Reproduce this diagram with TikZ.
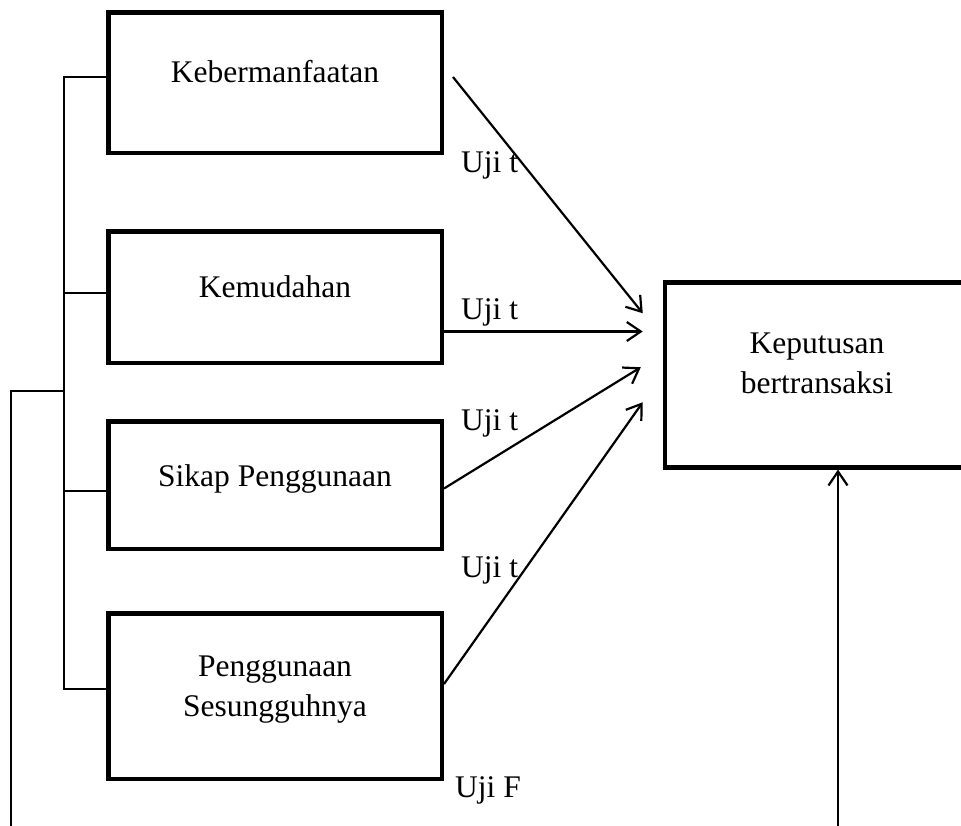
\documentclass[tikz,border=0pt]{standalone}
\usepackage{fontspec}
\setmainfont{Liberation Serif}
\usetikzlibrary{arrows.meta,calc}
\begin{document}
\begin{tikzpicture}[x=1pt,y=-1pt,
  box/.style={draw,line width=4.5pt,minimum width=333.5pt,inner sep=0pt},
  txt/.style={inner sep=0pt,font=\fontsize{31.5pt}{40pt}\selectfont},
  thinln/.style={line width=2pt},
  arr/.style={line width=2.2pt,-{Straight Barb[length=14pt,width=19pt,line width=2.2pt]}}]
\useasboundingbox (0,0) rectangle (961,825);
\clip (0,0) rectangle (961,825);
% boxes
\node[box,minimum height=140.5pt] (b1) at (275,82.5) {};
\node[box,minimum height=131.5pt] (b2) at (275,297) {};
\node[box,minimum height=127.5pt] (b3) at (275,485) {};
\node[box,minimum height=165.5pt] (b4) at (275,696) {};
\node[box,minimum width=310pt,minimum height=185pt] (b5) at (820,374.75) {};
% box texts
\node[txt,anchor=base] (t1) at (275,82) {Kebermanfaatan};
\node[txt,anchor=base] (t2) at (275,297) {Kemudahan};
\node[txt,anchor=base] (t3) at (275,486) {Sikap Penggunaan};
\node[txt,anchor=base] (t4a) at (275,676) {Penggunaan};
\node[txt,anchor=base] (t4b) at (275,716) {Sesungguhnya};
\node[txt,anchor=base] (t5a) at (817,353) {Keputusan};
\node[txt,anchor=base] (t5b) at (817,393) {bertransaksi};
% labels
\node[txt,anchor=base west] (l1) at (461,172) {Uji t};
\node[txt,anchor=base west] (l2) at (461,319) {Uji t};
\node[txt,anchor=base west] (l3) at (461,430) {Uji t};
\node[txt,anchor=base west] (l4) at (461,577) {Uji t};
\node[txt,anchor=base west] (lF) at (455,797) {Uji F};
% arrows
\draw[arr] ($(b1.east)+(9,-5.5)$) -- ($(b5.west)+(-20,-61.5)$);
\draw[arr] (b2.east |- 0,331.5) -- ($(b5.west)+(-20,-43.25)$);
\draw[arr] (b3.east |- 0,488.5) -- ($(b5.west)+(-22,-7.5)$);
\draw[arr] (b4.east |- 0,684) -- ($(b5.west)+(-20,27.5)$);
% bracket
\draw[thinln] (b1.west |- 0,77) -- (64,77) -- (64,689) -- (b4.west |- 0,689);
\draw[thinln] (b2.west |- 0,293) -- (64,293);
\draw[thinln] (b3.west |- 0,491) -- (64,491);
\coordinate (fl) at (11,830);
\draw[thinln] (64,391) -- (fl |- 0,391) -- (fl);
% bottom arrow
\coordinate (fb) at (838,830);
\draw[arr] (fb) -- (fb |- b5.south);
\end{tikzpicture}
\end{document}
